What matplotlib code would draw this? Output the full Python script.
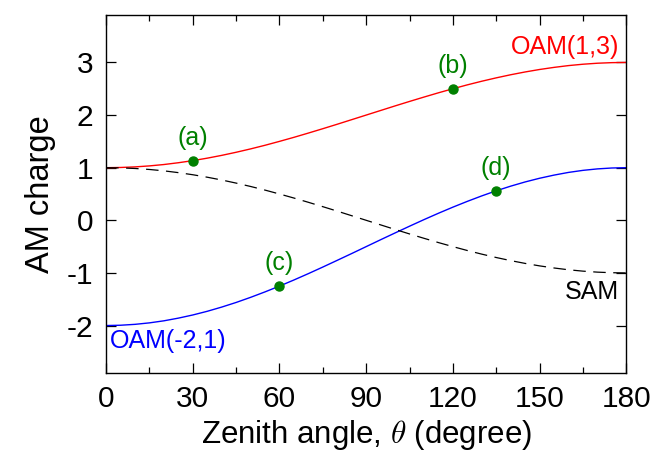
import numpy as np
import matplotlib.pyplot as plt
from matplotlib.ticker import MultipleLocator

plt.rcParams['font.family'] = ['Liberation Sans', 'DejaVu Sans']
plt.rcParams['mathtext.fontset'] = 'cm'
plt.rcParams['axes.unicode_minus'] = False

# values, every 5 degrees
theta = list(range(0, 181, 5))
oam_13 = [1.0, 1.004, 1.015, 1.034, 1.06, 1.094, 1.134, 1.181, 1.234, 1.293,
          1.357, 1.426, 1.5, 1.577, 1.658, 1.741, 1.826, 1.913, 2.0,
          2.087, 2.174, 2.259, 2.342, 2.423, 2.5, 2.574, 2.643, 2.707,
          2.766, 2.819, 2.866, 2.906, 2.94, 2.966, 2.985, 2.996, 3.0]
sam = [1.0, 0.996, 0.985, 0.966, 0.94, 0.906, 0.866, 0.819, 0.766, 0.707,
       0.643, 0.574, 0.5, 0.423, 0.342, 0.259, 0.174, 0.087, 0.0,
       -0.087, -0.174, -0.259, -0.342, -0.423, -0.5, -0.574, -0.643, -0.707,
       -0.766, -0.819, -0.866, -0.906, -0.94, -0.966, -0.985, -0.996, -1.0]
oam_m21 = [-2.0, -1.994, -1.977, -1.949, -1.91, -1.859, -1.799, -1.729, -1.649, -1.561,
           -1.464, -1.36, -1.25, -1.134, -1.013, -0.888, -0.76, -0.631, -0.5,
           -0.369, -0.24, -0.112, 0.013, 0.134, 0.25, 0.36, 0.464, 0.561,
           0.649, 0.729, 0.799, 0.859, 0.91, 0.949, 0.977, 0.994, 1.0]

# marked points
pt_names = ['(a)', '(b)', '(c)', '(d)']
pt_x = [30, 120, 60, 135]
pt_y = [1.134, 2.5, -1.25, 0.56]

fig = plt.figure(figsize=(6.51, 4.57), dpi=100)
ax = fig.add_axes([0.163, 0.184, 0.799, 0.783])

ax.plot(theta, oam_13, color='red', lw=1.0)
ax.plot(theta, oam_m21, color='blue', lw=1.0)
ax.plot(theta, sam, color='black', lw=0.9, dashes=(10, 6))

green = '#008000'
ax.plot(pt_x, pt_y, 'o', color=green, ms=6.5, zorder=5)
for name, x, y in zip(pt_names, pt_x, pt_y):
    ax.text(x, y + 0.43, name, color=green, fontsize=18, ha='center', va='center')

ax.text(177.5, 3.3, 'OAM(1,3)', color='red', fontsize=18, ha='right', va='center')
ax.text(177.5, -1.37, 'SAM', color='black', fontsize=18, ha='right', va='center')
ax.text(1.3, -2.29, 'OAM(-2,1)', color='blue', fontsize=18, ha='left', va='center')

ax.set_xlim(0, 180)
ax.set_ylim(-2.9, 3.9)
ax.xaxis.set_major_locator(MultipleLocator(30))
ax.xaxis.set_minor_locator(MultipleLocator(15))
ax.set_yticks([-2, -1, 0, 1, 2, 3])
ax.tick_params(which='both', direction='in', top=True, right=True, labelsize=21.5, pad=9)
ax.tick_params(which='major', length=7, width=0.9)
ax.tick_params(which='minor', length=4, width=0.9)
for s in ax.spines.values():
    s.set_linewidth(1.0)

ax.set_xlabel(r'Zenith angle, $\theta$ (degree)', fontsize=22.5, labelpad=3)
ax.set_ylabel('AM charge', fontsize=23.5, labelpad=8)

fig.savefig('out.png', dpi=100)
